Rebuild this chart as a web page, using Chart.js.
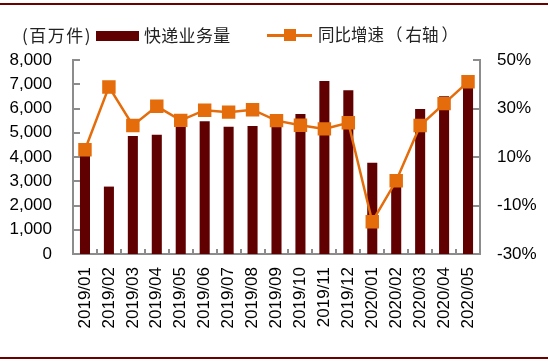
<!DOCTYPE html>
<html>
<head>
<meta charset="utf-8">
<script src="https://cdn.jsdelivr.net/npm/chart.js@4.4.4/dist/chart.umd.min.js"></script>
<style>
    body { margin: 0; background: #fff; }
    #wrap { position: relative; width: 548px; height: 362px; overflow: hidden; }
    .rule { position: absolute; left: 0; width: 548px; height: 2px; background: #6b0000; }
    .lg { position: absolute; font-family: "Noto Sans CJK SC", sans-serif; font-size: 17px; line-height: 17px; color: #222; white-space: nowrap; }
</style>
</head>
<body>
<div id="wrap">
    <canvas id="chart" width="548" height="362"></canvas>
    <div class="rule" style="top:3px"></div>
    <div class="rule" style="top:357px"></div>
    <span class="lg" style="left:22px; top:26px; letter-spacing:1.5px;">(百万件)</span>
    <div style="position:absolute; left:96px; top:31px; width:43px; height:10px; background:#600000;"></div>
    <span class="lg" style="left:144px; top:26px; letter-spacing:0.3px;">快递业务量</span>
    <div style="position:absolute; left:267px; top:34px; width:45px; height:2.5px; background:#e46c0a;"></div>
    <div style="position:absolute; left:284px; top:29px; width:12px; height:12px; background:#e46c0a;"></div>
    <span class="lg" style="left:318px; top:26px; font-size:16.5px;">同比增速<span style="margin:0 3px 0 2px">（</span>右轴<span style="margin-left:3px">）</span></span>
</div>
<script>
// 快递业务量（百万件）与同比增速
const months = ['2019/01', '2019/02', '2019/03', '2019/04', '2019/05', '2019/06', '2019/07', '2019/08', '2019/09',
    '2019/10', '2019/11', '2019/12', '2020/01', '2020/02', '2020/03', '2020/04', '2020/05'];
const volume = [4500, 2780, 4870, 4920, 5240, 5470, 5250, 5280, 5250, 5770, 7130, 6750, 3765, 2790, 5980, 6510, 7340];
const growth = [13.0, 38.9, 23.0, 30.9, 25.1, 29.3, 28.5, 29.5, 25.0, 23.1, 21.6, 24.1, -16.7, 0.2, 23.0, 32.0, 41.0];

const volumeMin = 0, volumeMax = 8000, volumeStep = 1000;
const growthMin = -30, growthMax = 50, growthStep = 20;

const axisGray = '#8c8c8c';
const tickFont = { family: 'Liberation Sans, Arial, sans-serif', size: 17 };

// tick marks point into the plot, like the source chart
const innerTicks = {
    id: 'innerTicks',
    afterDraw(chart) {
        const { ctx, chartArea, scales } = chart;
        ctx.save();
        ctx.strokeStyle = axisGray;
        ctx.lineWidth = 2;
        ctx.beginPath();
        scales.y.ticks.forEach((t, i) => {
            const y = Math.round(scales.y.getPixelForTick(i));
            ctx.moveTo(chartArea.left, y);
            ctx.lineTo(chartArea.left + 7, y);
        });
        scales.y1.ticks.forEach((t, i) => {
            const y = Math.round(scales.y1.getPixelForTick(i));
            ctx.moveTo(chartArea.right, y);
            ctx.lineTo(chartArea.right - 7, y);
        });
        for (let i = 1; i < months.length; i++) {
            const x = Math.round(scales.x.getPixelForValue(i - 0.5));
            ctx.moveTo(x, chartArea.bottom);
            ctx.lineTo(x, chartArea.bottom - 5);
        }
        ctx.stroke();
        ctx.restore();
    }
};

new Chart(document.getElementById('chart').getContext('2d'), {
    data: {
        labels: months,
        datasets: [{
            type: 'line',
            label: '同比增速（右轴）',
            data: growth,
            yAxisID: 'y1',
            borderColor: '#e46c0a',
            backgroundColor: '#e46c0a',
            borderWidth: 2.5,
            pointStyle: 'rect',
            pointRadius: 9.5,
            pointBorderWidth: 0,
            tension: 0,
            order: 0
        }, {
            type: 'bar',
            label: '快递业务量',
            data: volume,
            yAxisID: 'y',
            backgroundColor: '#600000',
            barPercentage: 0.42,
            categoryPercentage: 1,
            order: 1
        }]
    },
    options: {
        responsive: false,
        animation: false,
        layout: { padding: { top: 60, left: 0, right: 0, bottom: 0 } },
        plugins: { legend: { display: false }, tooltip: { enabled: false } },
        scales: {
            x: {
                offset: true,
                grid: { display: false, drawTicks: false },
                border: { color: axisGray, width: 2 },
                ticks: { color: '#000', font: tickFont, minRotation: 90, maxRotation: 90, padding: 13, autoSkip: false },
                afterFit: s => { s.height = 108; }
            },
            y: {
                position: 'left',
                min: volumeMin, max: volumeMax,
                grid: { display: false, drawTicks: false },
                border: { color: axisGray, width: 2 },
                ticks: { stepSize: volumeStep, color: '#000', font: tickFont, padding: 21,
                    callback: v => v.toLocaleString('en-US') },
                afterFit: s => { s.width = 73; }
            },
            y1: {
                position: 'right',
                min: growthMin, max: growthMax,
                grid: { display: false, drawTicks: false },
                border: { color: axisGray, width: 2 },
                ticks: { stepSize: growthStep, color: '#000', font: tickFont, padding: 17,
                    callback: v => v + '%' },
                afterFit: s => { s.width = 68; }
            }
        }
    },
    plugins: [innerTicks]
});
</script>
</body>
</html>
